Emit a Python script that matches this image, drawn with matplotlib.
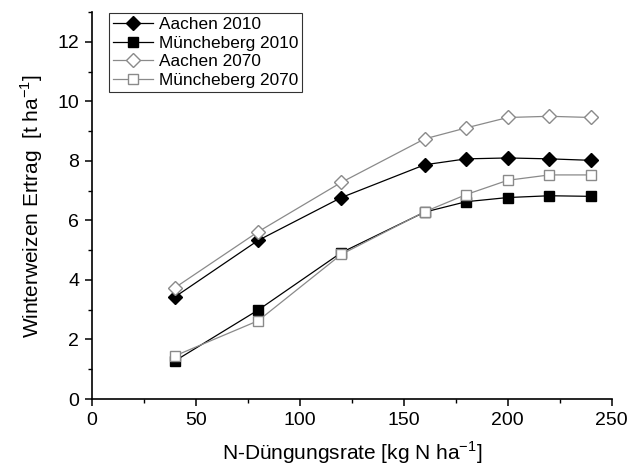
import matplotlib
matplotlib.use("Agg")
import matplotlib.pyplot as plt
from matplotlib.ticker import MultipleLocator

plt.rcParams['font.family'] = ['Liberation Sans', 'DejaVu Sans']

n_rate = [40, 80, 120, 160, 180, 200, 220, 240]
aachen_2010 = [3.43, 5.33, 6.77, 7.87, 8.07, 8.10, 8.07, 8.02]
muencheberg_2010 = [1.28, 2.99, 4.92, 6.28, 6.63, 6.77, 6.83, 6.81]
aachen_2070 = [3.74, 5.62, 7.28, 8.74, 9.11, 9.46, 9.50, 9.46]
muencheberg_2070 = [1.45, 2.63, 4.86, 6.29, 6.87, 7.35, 7.53, 7.53]

grey = '#8a8a8a'

fig = plt.figure(figsize=(6.44, 4.67), dpi=100)
ax = fig.add_axes([0.1424, 0.1456, 0.95 - 0.1424, 0.974 - 0.1456])

ax.plot(n_rate, aachen_2010, color='black', lw=0.9, marker='D', ms=7.5,
        mfc='black', mec='black', label='Aachen 2010')
ax.plot(n_rate, muencheberg_2010, color='black', lw=0.9, marker='s', ms=7,
        mfc='black', mec='black', label='Müncheberg 2010')
ax.plot(n_rate, aachen_2070, color=grey, lw=0.9, marker='D', ms=7.5,
        mfc='white', mec=grey, mew=1.0, label='Aachen 2070')
ax.plot(n_rate, muencheberg_2070, color=grey, lw=0.9, marker='s', ms=7,
        mfc='white', mec=grey, mew=1.0, label='Müncheberg 2070')

ax.set_xlim(0, 250)
ax.set_ylim(0, 13)
ax.xaxis.set_major_locator(MultipleLocator(50))
ax.xaxis.set_minor_locator(MultipleLocator(25))
ax.yaxis.set_major_locator(MultipleLocator(2))
ax.yaxis.set_minor_locator(MultipleLocator(1))

for s in ['top', 'right']:
    ax.spines[s].set_visible(False)
for s in ['left', 'bottom']:
    ax.spines[s].set_linewidth(1.2)

ax.tick_params(which='major', direction='out', length=5, width=1.1,
               labelsize=14, pad=4)
ax.tick_params(which='minor', direction='out', length=3, width=1.0)

ax.set_xlabel('N-Düngungsrate [kg N ha$^{\\mathregular{-1}}$]', fontsize=15, labelpad=7.5)
ax.set_ylabel('Winterweizen Ertrag  [t ha$^{\\mathregular{-1}}$]', fontsize=15, labelpad=9)

leg = ax.legend(loc='upper left', bbox_to_anchor=(0.033, 0.998), fontsize=12.4,
                frameon=True, fancybox=False, edgecolor='black', borderpad=0.25,
                labelspacing=0.2, handlelength=2.3, handletextpad=0.35,
                borderaxespad=0.0)
leg.get_frame().set_linewidth(0.8)

fig.savefig('out.png', dpi=100)
